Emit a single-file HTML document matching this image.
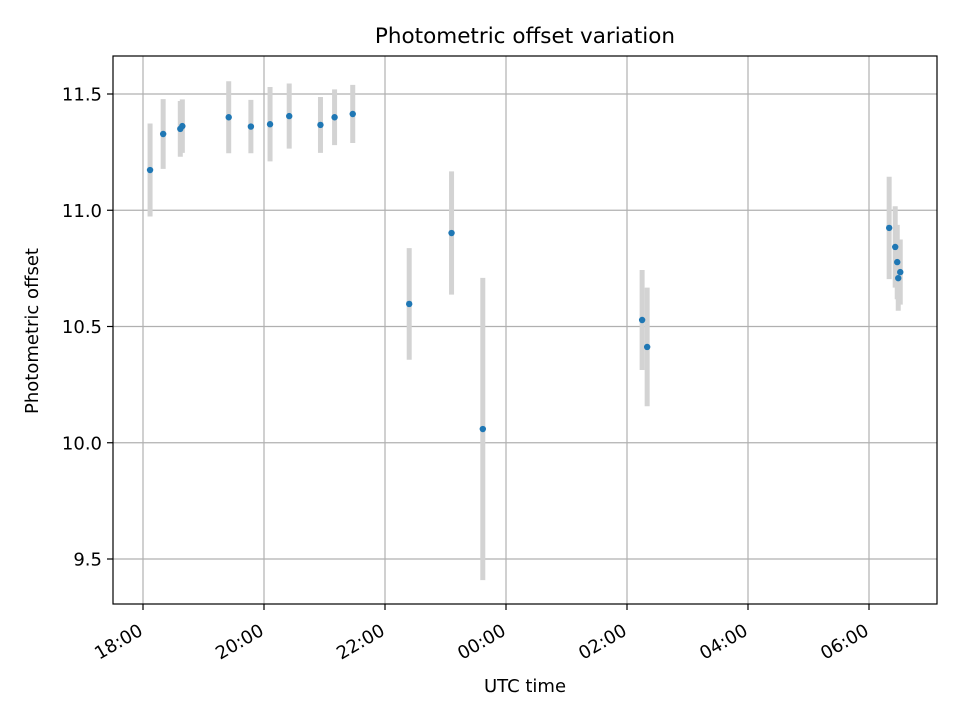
<!DOCTYPE html>
<html><head><meta charset="utf-8"><style>
body{margin:0;background:#fff;}
svg text{font-family:"DejaVu Sans","Liberation Sans",sans-serif;fill:#000;}
</style></head><body>
<svg id="chart" width="960" height="720" viewBox="0 0 960 720">
<rect width="960" height="720" fill="#fff"/>
<g id="grid"></g>
<g id="bars"></g>
<g id="pts"></g>
<rect x="113" y="56" width="824" height="548" fill="none" stroke="#000" stroke-width="1.2"/>
<g id="axes"></g>
<text x="525" y="43" font-size="21.5" text-anchor="middle">Photometric offset variation</text>
<text x="525" y="692" font-size="18" text-anchor="middle">UTC time</text>
<text transform="translate(38,331) rotate(-90)" font-size="18" text-anchor="middle">Photometric offset</text>
</svg>
<script>
// minutes after 18:00 UTC
const times=[7,20,37,39,85,107,126,145,176,190,208,264,306,337,495,500,740,746,748,751,749];
const values=[11.173,11.328,11.35,11.362,11.40,11.36,11.37,11.405,11.367,11.40,11.414,10.597,10.902,10.059,10.528,10.412,10.924,10.842,10.777,10.734,10.708];
const errors=[0.2,0.15,0.12,0.115,0.155,0.115,0.16,0.14,0.12,0.12,0.125,0.24,0.265,0.65,0.215,0.255,0.22,0.175,0.16,0.14,0.14];
const yTicks=[9.5,10.0,10.5,11.0,11.5];
const xTickMinutes=[0,120,240,360,480,600,720];
const xTickLabels=["18:00","20:00","22:00","00:00","02:00","04:00","06:00"];
const NS="http://www.w3.org/2000/svg";
const X=m=>143+m/60*60.5;
const Y=v=>94+(11.5-v)*232.5;
function mk(t,a,p){const e=document.createElementNS(NS,t);for(const k in a)e.setAttribute(k,a[k]);p.appendChild(e);return e;}
const grid=document.getElementById('grid'),axes=document.getElementById('axes');
yTicks.forEach(v=>{
 const y=Y(v);
 const g=mk('line',{x1:113,x2:937,y1:y,y2:y,stroke:'#b0b0b0','stroke-width':1.2},grid);
 
 
 const t=mk('line',{x1:107,x2:113,y1:y,y2:y,stroke:'#000','stroke-width':1.2},axes);
 
 
 const l=mk('text',{x:102,y:y+6.5,'font-size':18,'text-anchor':'end'},axes);
 
 
 l.textContent=v.toFixed(1);
});
xTickMinutes.forEach((m,i)=>{
 const x=X(m);
 const g=mk('line',{x1:x,x2:x,y1:56,y2:604,stroke:'#b0b0b0','stroke-width':1.2},grid);
 
 
 const t=mk('line',{x1:x,x2:x,y1:604,y2:610,stroke:'#000','stroke-width':1.2},axes);
 
 
 const l=mk('text',{transform:`translate(${x+1},${634}) rotate(-30)`,'font-size':18,'text-anchor':'end'},axes);
 
 
 l.textContent=xTickLabels[i];
});
const bars=document.getElementById('bars'),pts=document.getElementById('pts');
times.forEach((m,i)=>{
 const x=X(m),y=Y(values[i]);
 const b=mk('line',{x1:x,x2:x,y1:Y(values[i]+errors[i]),y2:Y(values[i]-errors[i]),stroke:'#d3d3d3','stroke-width':5},bars);
 
 
 const c=mk('circle',{cx:x,cy:y,r:3.2,fill:'#1f77b4'},pts);
 
 
});
</script>
</body></html>
